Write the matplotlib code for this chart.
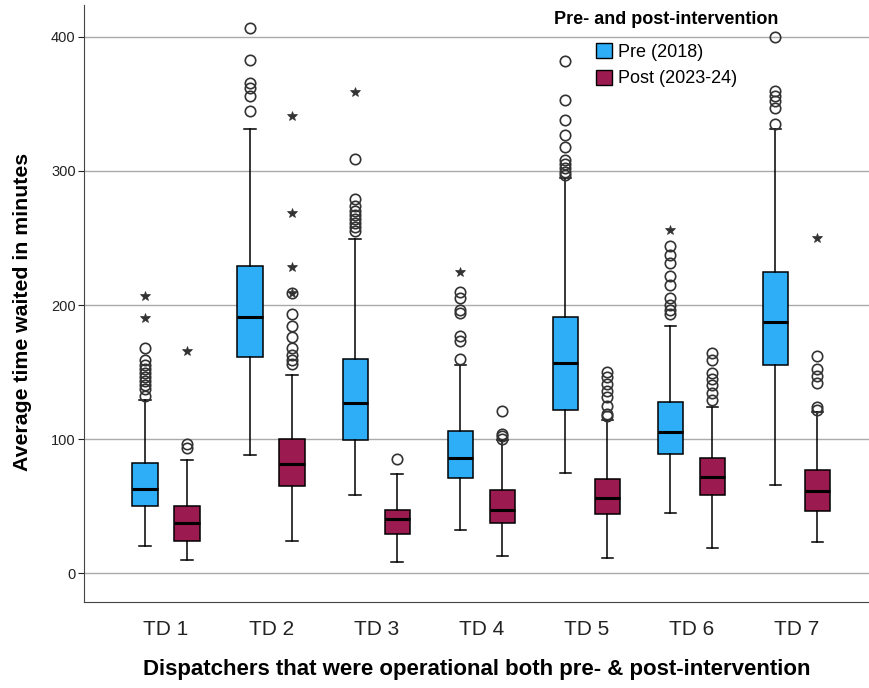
import matplotlib
matplotlib.use("Agg")
import matplotlib.pyplot as plt
from matplotlib.patches import Patch

plt.rcParams["font.family"] = ["Liberation Sans", "DejaVu Sans"]

# dispatchers
dispatchers = ["TD 1", "TD 2", "TD 3", "TD 4", "TD 5", "TD 6", "TD 7"]

# box stats: (lower whisker, q1, median, q3, upper whisker)
pre_stats = [
    (20, 50, 63, 82, 129),
    (88, 161, 191, 229, 331),
    (58, 99, 127, 160, 249),
    (32, 71, 86, 106, 155),
    (75, 122, 157, 191, 295),
    (45, 89, 105, 128, 184),
    (66, 155, 187, 225, 331),
]
post_stats = [
    (10, 24, 37, 50, 84),
    (24, 65, 81, 100, 148),
    (8, 29, 40, 47, 74),
    (13, 37, 47, 62, 99),
    (11, 44, 56, 70, 114),
    (19, 58, 72, 86, 124),
    (23, 46, 61, 77, 120),
]

# outliers (circles) and extreme values (stars)
pre_outliers = [
    [168, 159, 155, 152, 149, 146, 143, 140, 137, 132],
    [407, 383, 366, 362, 356, 345],
    [309, 279, 274, 270, 267, 264, 261, 258, 255],
    [210, 205, 196, 194, 177, 173, 160],
    [382, 353, 338, 327, 318, 308, 305, 302, 299, 297],
    [244, 237, 231, 222, 215, 205, 200, 196, 193],
    [400, 360, 356, 352, 347, 335],
]
pre_extremes = [[207, 190], [], [359], [225], [], [256], []]

post_outliers = [
    [96, 93],
    [209, 193, 184, 176, 168, 163, 159, 156],
    [85],
    [121, 104, 102, 100],
    [150, 146, 141, 136, 131, 125, 119, 117],
    [164, 159, 149, 145, 140, 134, 129],
    [162, 152, 147, 142, 124, 122],
]
post_extremes = [[166], [341, 269, 228, 209], [], [], [], [], [250]]

pre_color = "#2DAEF7"
post_color = "#9B1A50"


def make_bxp(stats):
    out = []
    for lo, q1, med, q3, hi in stats:
        out.append({"whislo": lo, "q1": q1, "med": med, "q3": q3,
                    "whishi": hi, "fliers": []})
    return out


fig = plt.figure(figsize=(8.7, 6.88), dpi=100)
ax = fig.add_axes([0.0966, 0.125, 0.9034, 0.868])

offset = 0.2
width = 0.24
groups = [
    (pre_stats, pre_outliers, pre_extremes, pre_color, -offset),
    (post_stats, post_outliers, post_extremes, post_color, offset),
]

for stats, outs, extr, color, off in groups:
    pos = [i + off for i in range(len(dispatchers))]
    ax.bxp(
        make_bxp(stats), positions=pos, widths=width, patch_artist=True,
        showfliers=False,
        boxprops=dict(facecolor=color, edgecolor="black", linewidth=1.1),
        medianprops=dict(color="black", linewidth=2.2),
        whiskerprops=dict(color="black", linewidth=1.1),
        capprops=dict(color="black", linewidth=1.1),
        capwidths=width * 0.45,
        zorder=3,
    )
    for p, o, e in zip(pos, outs, extr):
        ax.plot([p] * len(o), o, "o", markersize=7.5, markerfacecolor="none",
                markeredgecolor="#333333", markeredgewidth=1.2, zorder=4)
        ax.plot([p] * len(e), e, "*", markersize=7, color="#333333",
                markeredgewidth=0.5, zorder=4)

ax.set_xlim(-0.78, 6.70)
ax.set_ylim(-21.6, 424)
ax.set_yticks([0, 100, 200, 300, 400])
ax.set_xticks(range(len(dispatchers)))
ax.set_xticklabels(dispatchers)
ax.yaxis.grid(True, color="#aaaaaa", linewidth=1.0)
ax.set_axisbelow(True)

ax.tick_params(axis="x", length=0, labelsize=15, pad=13, colors="#222222")
ax.tick_params(axis="y", length=4, labelsize=10.5, pad=2, colors="#222222")
ax.spines["top"].set_visible(False)
ax.spines["right"].set_visible(False)
ax.spines["left"].set_color("#444444")
ax.spines["bottom"].set_color("#444444")

ax.set_ylabel("Average time waited in minutes", fontsize=15.3,
              fontweight="bold")
ax.yaxis.set_label_coords(-0.066, 0.485)
ax.set_xlabel("Dispatchers that were operational both pre- & post-intervention",
              fontsize=16, fontweight="bold", labelpad=14)

# legend: bold title placed on its own, entries indented below it
fig.text(0.7655, 1 - 20 / 688, "Pre- and post-intervention", ha="center",
         va="center", fontsize=13, fontweight="bold")
handles = [
    Patch(facecolor=pre_color, edgecolor="black", label="Pre (2018)"),
    Patch(facecolor=post_color, edgecolor="black", label="Post (2023-24)"),
]
fig.legend(handles=handles, loc="upper left",
           bbox_to_anchor=(596 / 870, 1 - 43 / 688),
           frameon=False, fontsize=13, handlelength=0.9,
           handleheight=0.9, handletextpad=0.3, labelspacing=0.5,
           borderpad=0, borderaxespad=0)

fig.savefig("out.png", dpi=100)
